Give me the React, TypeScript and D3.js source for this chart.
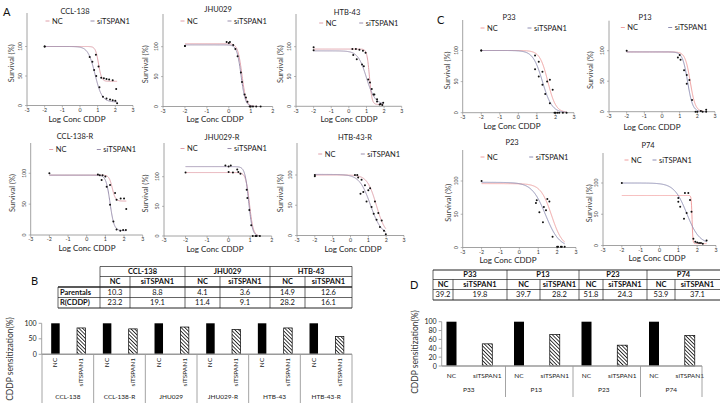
import React from "react";
import * as d3 from "d3";

type Pt = [number, number];
type Fit = [number, number, number, number]; // top, bottom, logIC50, hill

// ---------- DATA ----------
const seriesNames = ["NC", "siTSPAN1"];
const xTicksFull = [-3, -2, -1, 0, 1, 2, 3];
const xTicksShort = [-3, -2, -1, 0, 1, 2];
const yTicksSurvival = [0, 50, 100];

const ccl138NC: Pt[] = [[-2, 100], [0.9, 86], [1.05, 66], [1.2, 47], [1.35, 46], [1.5, 45], [1.65, 44], [1.85, 43], [2.05, 28]];
const ccl138Si: Pt[] = [[-2, 100], [0.55, 82], [0.7, 74], [0.8, 60], [0.92, 50], [1.1, 31], [1.3, 15], [1.5, 12], [1.7, 10], [1.85, 9], [2.0, 8], [2.1, 4]];
const ccl138Fit: Fit[] = [[100, 41, 1.05, 5], [100, 6, 0.85, 2.2]];

const jhu029NC: Pt[] = [[-2, 101], [-0.1, 108], [0.05, 108], [0.2, 103], [0.4, 84], [0.6, 41], [0.78, 15], [0.95, 0], [1.1, 0], [1.25, 0], [1.45, 0]];
const jhu029Si: Pt[] = [[-2, 101], [0.0, 106], [0.3, 96], [0.55, 57], [0.72, 20], [0.85, 8], [1.0, 0]];
const jhu029Fit: Fit[] = [[105, 0, 0.6, 4.5], [103, 0, 0.56, 4.5]];

const htb43NC: Pt[] = [[-2, 99], [0.2, 96], [0.4, 96], [0.6, 95], [0.8, 93], [0.95, 90], [1.2, 40], [1.4, 20], [1.6, 8], [1.8, 4], [1.95, 6]];
const htb43Si: Pt[] = [[-2, 94], [0.25, 86], [0.45, 79], [0.75, 70], [0.85, 67], [1.1, 45], [1.3, 29], [1.45, 20], [1.6, 12], [1.75, 3], [1.9, 2]];
const htb43Fit: Fit[] = [[96, 3, 1.17, 6], [93, 3, 1.0, 1.8]];

const ccl138rNC: Pt[] = [[-2, 100], [0.6, 98], [0.85, 97], [1.25, 81], [1.52, 68], [1.6, 57], [1.82, 59], [2.0, 59], [2.12, 42]];
const ccl138rSi: Pt[] = [[0.7, 97], [1.0, 95], [0.8, 89], [1.07, 78], [1.25, 49], [1.43, 22], [1.6, 9], [1.8, 7], [1.95, 8], [2.1, 8]];
const ccl138rFit: Fit[] = [[97, 55, 1.37, 5], [97, 7, 1.25, 4]];

const jhu029rNC: Pt[] = [[-2, 107], [0, 108], [0.2, 107], [0.45, 108], [0.55, 105], [0.84, 78], [0.96, 44], [1.05, 18], [1.25, 0], [1.45, 0]];
const jhu029rSi: Pt[] = [[-0.15, 119], [0.0, 117], [0.1, 119], [0.4, 112], [0.87, 64], [1.12, 0], [1.3, 0]];
const jhu029rFit: Fit[] = [[107, 0, 0.97, 5], [117, 0, 0.93, 5]];

const htb43rNC: Pt[] = [[-2, 100], [0.25, 100], [0.38, 100], [0.43, 96], [0.62, 92], [0.81, 83], [1.0, 75], [1.1, 78], [1.37, 56], [1.56, 37], [1.75, 25], [1.98, 2]];
const htb43rSi: Pt[] = [[-2, 98], [0.56, 69], [0.72, 72], [0.9, 56], [1.18, 47], [1.3, 36], [1.46, 26], [1.65, 14], [1.88, 8]];
const htb43rFit: Fit[] = [[100, 0, 1.45, 1.7], [101, 0, 1.12, 1.4]];

const p33NC: Pt[] = [[-2, 100], [0.9, 92], [1.1, 82], [1.3, 66], [1.55, 50], [1.7, 53], [1.85, 37], [2.0, 0], [2.2, 0], [2.4, 0], [2.6, 0]];
const p33Si: Pt[] = [[-2, 100], [0.9, 70], [1.1, 58], [1.3, 45], [1.45, 30], [1.7, 15], [1.95, 0], [2.1, 0]];
const p33Fit: Fit[] = [[100, 0, 1.59, 2], [100, 0, 1.3, 1.7]];

const p13NC: Pt[] = [[-2, 100], [1.0, 93], [1.4, 60], [1.55, 52], [1.7, 19], [2.0, 0], [2.2, 1], [2.5, 3]];
const p13Si: Pt[] = [[0.9, 89], [1.05, 85], [1.25, 68], [1.4, 46], [1.9, 0], [2.3, 0], [2.5, 0]];
const p13Fit: Fit[] = [[98, 0, 1.6, 3], [98, 0, 1.45, 3]];

const p23NC: Pt[] = [[-2, 100], [1.48, 73], [1.59, 69], [1.41, 56], [1.76, 16], [2.0, 1], [2.2, 1], [2.4, 1]];
const p23Si: Pt[] = [[0.92, 71], [0.88, 67], [1.06, 53], [1.25, 38], [1.3, 61], [2.05, 1], [2.25, 1]];
const p23Fit: Fit[] = [[96, 0, 1.71, 1.5], [98, 0, 1.39, 1.2]];

const p74NC: Pt[] = [[1.35, 84], [1.53, 84], [1.62, 73], [1.7, 54], [1.8, 11], [2.0, 5], [2.2, 4], [2.5, 8]];
const p74Si: Pt[] = [[-2, 100], [1.0, 76], [1.0, 70], [1.1, 62], [1.3, 43], [1.44, 52], [1.9, 6], [2.1, 4], [2.3, 3]];
const p74Fit: Fit[] = [[80, 3, 1.73, 20], [100, 2, 1.45, 1.3]];

const tableBGroups = ["CCL-138", "JHU029", "HTB-43"];
const tableBRowLabels = ["Parentals", "R(CDDP)"];
const tableBParentals = [10.3, 8.8, 4.1, 3.6, 14.9, 12.6];
const tableBResistant = [23.2, 19.1, 11.4, 9.1, 28.2, 16.1];

const tableDGroups = ["P33", "P13", "P23", "P74"];
const tableDValues = [39.2, 19.8, 39.7, 28.2, 51.8, 24.3, 53.9, 37.1];

const barGroupsB = ["CCL-138", "CCL-138-R", "JHU029", "JHU029-R", "HTB-43", "HTB-43-R"];
const barNCB = [100, 100, 100, 100, 100, 100];
const barSiB = [85, 82, 88, 80, 85, 57];
const yTicksB = [0, 50, 100];

const barGroupsD = ["P33", "P13", "P23", "P74"];
const barNCD = [100, 100, 100, 100];
const barSiD = [50, 71, 47, 69];
const yTicksD = [0, 20, 40, 60, 80, 100];

// ---------- LAYOUT / STYLE ----------
const FONT = "Lato, 'Open Sans', sans-serif";
const colA = ["#e0a0aa", "#9a8fae"];
const colC = ["#f0a0a0", "#8e8eb4"];

const plots = [
  { title: "CCL-138", nc: ccl138NC, si: ccl138Si, fit: ccl138Fit, col: colA, g: { x0: 27, x1: 133, xmax: 3, yb: 105.5, y100: 46.5, ytop: 13, tx: 75, ty: 11, ly: 21, ncx: 48, six: 93, lx: 77, lyl: 118.5, ylx: 14 } },
  { title: "JHU029", nc: jhu029NC, si: jhu029Si, fit: jhu029Fit, col: colA, g: { x0: 163, x1: 272.7, xmax: 2, yb: 106.5, y100: 46.7, ytop: 14, tx: 218, ty: 9, ly: 21, ncx: 183, six: 230, lx: 215, lyl: 119, ylx: 148 } },
  { title: "HTB-43", nc: htb43NC, si: htb43Si, fit: htb43Fit, col: colA, g: { x0: 296, x1: 401.7, xmax: 3, yb: 106.3, y100: 46.7, ytop: 14, tx: 347, ty: 12, ly: 23, ncx: 321.7, six: 361.7, lx: 349, lyl: 119, ylx: 283 } },
  { title: "CCL-138-R", nc: ccl138rNC, si: ccl138rSi, fit: ccl138rFit, col: colA, g: { x0: 30.7, x1: 142.7, xmax: 3, yb: 235, y100: 173.3, ytop: 143, tx: 75, ty: 136, ly: 149.5, ncx: 51.7, six: 99.3, lx: 87, lyl: 247.5, ylx: 15 } },
  { title: "JHU029-R", nc: jhu029rNC, si: jhu029rSi, fit: jhu029rFit, col: colA, g: { x0: 164, x1: 271.7, xmax: 2, yb: 236, y100: 176.7, ytop: 143, tx: 222, ty: 137, ly: 148.5, ncx: 183, six: 230, lx: 215, lyl: 248.5, ylx: 148 } },
  { title: "HTB-43-R", nc: htb43rNC, si: htb43rSi, fit: htb43rFit, col: colA, g: { x0: 297, x1: 404, xmax: 3, yb: 235.5, y100: 175, ytop: 143, tx: 355, ty: 137, ly: 154, ncx: 320.7, six: 363.3, lx: 353, lyl: 248.5, ylx: 283 } },
  { title: "P33", nc: p33NC, si: p33Si, fit: p33Fit, col: colC, g: { x0: 462.7, x1: 574, xmax: 3, yb: 112.7, y100: 50.5, ytop: 20, tx: 509, ty: 17, ly: 28, ncx: 483, six: 530, lx: 512, lyl: 126, ylx: 450 } },
  { title: "P13", nc: p13NC, si: p13Si, fit: p13Fit, col: colC, g: { x0: 609, x1: 715, xmax: 3, yb: 111.7, y100: 50.7, ytop: 20.7, tx: 645, ty: 17, ly: 27.5, ncx: 623.3, six: 670.7, lx: 652, lyl: 127, ylx: 593 } },
  { title: "P23", nc: p23NC, si: p23Si, fit: p23Fit, col: colC, g: { x0: 462.7, x1: 576, xmax: 3, yb: 247.5, y100: 181, ytop: 150, tx: 512, ty: 142, ly: 157, ncx: 483, six: 531.7, lx: 508, lyl: 259.5, ylx: 450.7 } },
  { title: "P74", nc: p74NC, si: p74Si, fit: p74Fit, col: colC, g: { x0: 603, x1: 716, xmax: 3, yb: 245.5, y100: 183, ytop: 153, tx: 648, ty: 145, ly: 160, ncx: 627, six: 655, lx: 657, lyl: 258, ylx: 592 } },
];

function logistic(f: Fit, v: number) {
  const [top, bottom, ic, hill] = f;
  return bottom + (top - bottom) / (1 + Math.pow(10, (v - ic) * hill));
}

function SurvivalPlot({ p }: { p: any }) {
  const g = p.g;
  const x = d3.scaleLinear().domain([-3, g.xmax]).range([g.x0, g.x1]);
  const y = d3.scaleLinear().domain([0, 100]).range([g.yb, g.y100]);
  const xTicks = g.xmax === 3 ? xTicksFull : xTicksShort;
  const all: Pt[] = [...p.nc, ...p.si];
  const xEnd = d3.max(all, (d) => d[0]) as number;
  const xs = d3.range(-2, xEnd + 0.005, 0.01);
  const axisCol = "#8a8a8a";
  return (
    <g>
      {p.fit.map((f: Fit, i: number) => {
        const line = d3.line<number>().x((v) => x(v)).y((v) => y(logistic(f, v)));
        return <path key={i} d={line(xs) || ""} fill="none" stroke={p.col[i]} strokeWidth={1} />;
      })}
      <line x1={g.x0} x2={g.x0} y1={g.yb} y2={g.ytop} stroke={axisCol} strokeWidth={0.8} />
      <line x1={g.x0} x2={g.x1} y1={g.yb} y2={g.yb} stroke={axisCol} strokeWidth={0.8} />
      {yTicksSurvival.map((t) => (
        <g key={"y" + t}>
          <line x1={g.x0 - 2} x2={g.x0} y1={y(t)} y2={y(t)} stroke={axisCol} strokeWidth={0.6} />
          <text transform={`translate(${g.x0 - 5},${y(t)}) rotate(-90)`} textAnchor="middle" fontSize={5} fill="#333" fontFamily={FONT}>{t}</text>
        </g>
      ))}
      {xTicks.map((t) => (
        <g key={"x" + t}>
          <line x1={x(t)} x2={x(t)} y1={g.yb} y2={g.yb + 2} stroke={axisCol} strokeWidth={0.6} />
          <text x={x(t)} y={g.yb + 6.3} textAnchor="middle" fontSize={5.3} fill="#333" fontFamily={FONT}>{t}</text>
        </g>
      ))}
      {[p.nc, p.si].map((pts: Pt[], i: number) =>
        pts.map((d, j) => <circle key={i + "-" + j} cx={x(d[0])} cy={y(d[1])} r={1} fill="#111" />)
      )}
      <text x={g.tx} y={g.ty + 2.5} textAnchor="middle" fontSize={7.5} fill="#222" fontFamily={FONT}>{p.title}</text>
      {[g.ncx, g.six].map((lx: number, i: number) => (
        <g key={"l" + i}>
          <line x1={lx - 2.5} x2={lx + 1.5} y1={g.ly} y2={g.ly} stroke={p.col[i]} strokeWidth={1} />
          <text x={lx + 4} y={g.ly + 2.5} fontSize={7.5} fill="#222" fontFamily={FONT}>{seriesNames[i]}</text>
        </g>
      ))}
      <text x={g.lx} y={g.lyl + 3} textAnchor="middle" fontSize={8} fill="#222" fontFamily={FONT}>Log Conc CDDP</text>
      <text transform={`translate(${g.ylx},${(g.yb + g.ytop) / 2 + 4}) rotate(-90)`} textAnchor="middle" fontSize={7.5} fill="#444" fontFamily={FONT}>Survival (%)</text>
    </g>
  );
}

function TableB() {
  const cols = [100, 130, 185, 220, 270, 305, 352];
  const rows = [266.5, 276.5, 287, 297.5, 308];
  const lx = 58;
  const s = "#222";
  const cx = (i: number) => (cols[i] + cols[i + 1]) / 2;
  const cy = (i: number) => (rows[i] + rows[i + 1]) / 2 + 2.6;
  return (
    <g fontFamily={FONT} fontSize={7.5} fill="#111">
      <line x1={cols[0]} x2={cols[6]} y1={rows[0]} y2={rows[0]} stroke={s} strokeWidth={0.7} />
      <line x1={cols[0]} x2={cols[6]} y1={rows[1]} y2={rows[1]} stroke={s} strokeWidth={0.7} />
      <line x1={lx} x2={cols[6]} y1={rows[2]} y2={rows[2]} stroke={s} strokeWidth={1.4} />
      <line x1={lx} x2={cols[6]} y1={rows[3]} y2={rows[3]} stroke={s} strokeWidth={0.7} />
      <line x1={lx} x2={cols[6]} y1={rows[4]} y2={rows[4]} stroke={s} strokeWidth={1} />
      <line x1={lx} x2={lx} y1={rows[2]} y2={rows[4]} stroke={s} strokeWidth={0.7} />
      {[0, 2, 4, 6].map((i) => <line key={"v" + i} x1={cols[i]} x2={cols[i]} y1={rows[0]} y2={rows[4]} stroke={s} strokeWidth={0.7} />)}
      {[1, 3, 5].map((i) => <line key={"w" + i} x1={cols[i]} x2={cols[i]} y1={rows[1]} y2={rows[4]} stroke={s} strokeWidth={0.7} />)}
      {tableBGroups.map((t, i) => <text key={t} x={(cols[2 * i] + cols[2 * i + 2]) / 2} y={cy(0)} textAnchor="middle" fontWeight="bold">{t}</text>)}
      {tableBParentals.map((_, i) => <text key={"h" + i} x={cx(i)} y={cy(1)} textAnchor="middle" fontWeight="bold">{seriesNames[i % 2]}</text>)}
      {tableBRowLabels.map((t, i) => <text key={t} x={lx + 2} y={cy(2 + i)} fontWeight="bold">{t}</text>)}
      {tableBParentals.map((v, i) => <text key={"p" + i} x={cx(i)} y={cy(2)} textAnchor="middle">{v.toFixed(1)}</text>)}
      {tableBResistant.map((v, i) => <text key={"r" + i} x={cx(i)} y={cy(3)} textAnchor="middle">{v.toFixed(1)}</text>)}
    </g>
  );
}

function TableD() {
  const cols = [433, 453, 507, 540, 579, 603, 647, 675, 720];
  const rows = [270, 279.5, 289.5, 300];
  const s = "#222";
  const cx = (i: number) => (cols[i] + cols[i + 1]) / 2;
  const cy = (i: number) => (rows[i] + rows[i + 1]) / 2 + 2.6;
  return (
    <g fontFamily={FONT} fontSize={7.5} fill="#111">
      {rows.map((r, i) => <line key={"h" + i} x1={cols[0]} x2={cols[8]} y1={r} y2={r} stroke={s} strokeWidth={i === 0 || i === 3 ? 1 : 0.7} />)}
      {[0, 2, 4, 6].map((i) => <line key={"v" + i} x1={cols[i]} x2={cols[i]} y1={rows[0]} y2={rows[3]} stroke={s} strokeWidth={0.7} />)}
      {[1, 3, 5, 7].map((i) => <line key={"w" + i} x1={cols[i]} x2={cols[i]} y1={rows[1]} y2={rows[3]} stroke={s} strokeWidth={0.7} />)}
      {tableDGroups.map((t, i) => <text key={t} x={(cols[2 * i] + cols[2 * i + 2]) / 2} y={cy(0)} textAnchor="middle" fontWeight="bold">{t}</text>)}
      {tableDValues.map((_, i) => <text key={"s" + i} x={cx(i)} y={cy(1)} textAnchor="middle" fontWeight="bold">{seriesNames[i % 2]}</text>)}
      {tableDValues.map((v, i) => <text key={"v" + i} x={cx(i)} y={cy(2)} textAnchor="middle">{v.toFixed(1)}</text>)}
    </g>
  );
}

function BarsB() {
  const ax = 41.7;
  const x = d3.scaleBand().domain(barGroupsB).range([42, 352]);
  const y = d3.scaleLinear().domain([0, 100]).range([354.3, 323.3]);
  const bw = 8.5;
  const gw = x.bandwidth();
  const grey = "#9a9a9a";
  return (
    <g fontFamily={FONT}>
      {barGroupsB.map((gname, i) => {
        const x0 = x(gname) as number;
        const ncC = x0 + gw * 0.26;
        const siC = x0 + gw * 0.76;
        return (
          <g key={gname}>
            <rect x={ncC - bw / 2} y={y(barNCB[i])} width={bw} height={y(0) - y(barNCB[i])} fill="#000" />
            <rect x={siC - bw / 2} y={y(barSiB[i])} width={bw} height={y(0) - y(barSiB[i])} fill="url(#hatch)" stroke="#000" strokeWidth={0.7} />
            <text transform={`translate(${ncC + 2},358) rotate(-90)`} textAnchor="end" fontSize={6.5} fill="#222">{seriesNames[0]}</text>
            <text transform={`translate(${siC + 2},358) rotate(-90)`} textAnchor="end" fontSize={6.5} fill="#222">{seriesNames[1]}</text>
            <text x={x0 + gw / 2} y={399} textAnchor="middle" fontSize={6.5} fill="#222">{gname}</text>
          </g>
        );
      })}
      {[...barGroupsB.map((gname) => x(gname) as number), 352].map((sx, i) => (
        <line key={"s" + i} x1={sx} x2={sx} y1={354.3} y2={403} stroke={grey} strokeWidth={0.9} />
      ))}
      <line x1={ax} x2={352} y1={354.3} y2={354.3} stroke={grey} strokeWidth={1.5} />
      <line x1={ax} x2={ax} y1={y(100)} y2={354.3} stroke={grey} strokeWidth={0.9} />
      {yTicksB.map((t) => (
        <g key={t}>
          <line x1={ax - 3} x2={ax} y1={y(t)} y2={y(t)} stroke={grey} strokeWidth={0.9} />
          <text x={ax - 5} y={y(t) + 2.5} textAnchor="end" fontSize={7} fill="#222">{t}</text>
        </g>
      ))}
      <text transform="translate(13,359) rotate(-90)" textAnchor="middle" fontSize={8.5} fill="#333">CDDP sensitization(%)</text>
    </g>
  );
}

function BarsD() {
  const ax = 441.7;
  const x = d3.scaleBand().domain(barGroupsD).range([438, 708]);
  const y = d3.scaleLinear().domain([0, 100]).range([366, 321.7]);
  const bw = 10;
  const gw = x.bandwidth();
  const grey = "#9a9a9a";
  const seps = barGroupsD.slice(1).map((gname) => x(gname) as number);
  return (
    <g fontFamily={FONT}>
      {barGroupsD.map((gname, i) => {
        const x0 = x(gname) as number;
        const ncC = x0 + gw * 0.2;
        const siC = x0 + gw * 0.73;
        return (
          <g key={gname}>
            <rect x={ncC - bw / 2} y={y(barNCD[i])} width={bw} height={y(0) - y(barNCD[i])} fill="#000" />
            <rect x={siC - bw / 2} y={y(barSiD[i])} width={bw} height={y(0) - y(barSiD[i])} fill="url(#hatch)" stroke="#000" strokeWidth={0.7} />
            <text x={ncC} y={378} textAnchor="middle" fontSize={6.5} fill="#222">{seriesNames[0]}</text>
            <text x={siC} y={378} textAnchor="middle" fontSize={6.5} fill="#222">{seriesNames[1]}</text>
            <text x={x0 + gw / 2 - 3} y={392} textAnchor="middle" fontSize={6.5} fill="#222">{gname}</text>
          </g>
        );
      })}
      {[...seps, 702].map((sx, i) => (
        <line key={"s" + i} x1={sx} x2={sx} y1={366} y2={397} stroke={grey} strokeWidth={0.9} />
      ))}
      <line x1={ax} x2={702} y1={366} y2={366} stroke={grey} strokeWidth={1.5} />
      <line x1={ax} x2={ax} y1={y(100)} y2={366} stroke={grey} strokeWidth={0.9} />
      {yTicksD.map((t) => (
        <g key={t}>
          <line x1={ax - 3} x2={ax} y1={y(t)} y2={y(t)} stroke={grey} strokeWidth={0.9} />
          <text x={ax - 5} y={y(t) + 2.5} textAnchor="end" fontSize={7} fill="#222">{t}</text>
        </g>
      ))}
      <text transform="translate(418,352) rotate(-90)" textAnchor="middle" fontSize={8.5} fill="#333">CDDP sensitization(%)</text>
    </g>
  );
}

export default function App() {
  return (
    <svg width={726} height={408} viewBox="0 0 726 408" style={{ position: "absolute", left: 0, top: 0, background: "#fff" }}>
      <defs>
        <pattern id="hatch" patternUnits="userSpaceOnUse" width={2.6} height={2.6} patternTransform="rotate(-45)">
          <rect width={2.6} height={2.6} fill="#fff" />
          <line x1={0} y1={0} x2={0} y2={2.6} stroke="#000" strokeWidth={1.5} />
        </pattern>
      </defs>
      <rect width={726} height={408} fill="#fff" />
      {plots.map((p) => <SurvivalPlot key={p.title} p={p} />)}
      <g fontFamily={FONT} fontSize={11} fill="#111">
        <text x={3} y={16}>A</text>
        <text x={31} y={285}>B</text>
        <text x={437} y={24}>C</text>
        <text x={410} y={289}>D</text>
      </g>
      <TableB />
      <TableD />
      <BarsB />
      <BarsD />
    </svg>
  );
}
